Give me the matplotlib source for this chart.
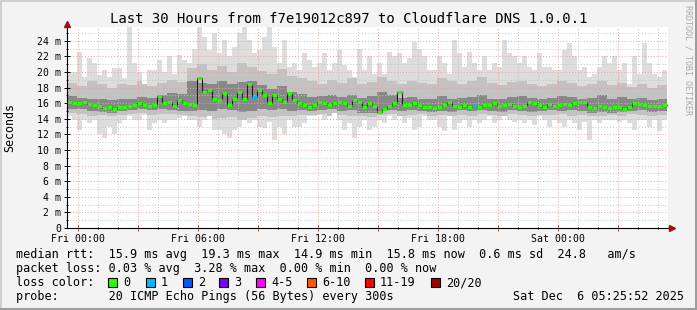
import numpy as np
import matplotlib.pyplot as plt
from matplotlib.ticker import MultipleLocator
from matplotlib.patches import Rectangle
from matplotlib.lines import Line2D

plt.rcParams['font.family'] = ['DejaVu Sans Mono']

# ---- data (ms), 15 minute bins starting Thu 23:26 ----
median = [16.2, 16.0, 16.0, 16.1, 15.9, 15.8, 15.6, 15.4, 15.5, 15.2, 15.5, 15.5,
          15.6, 15.8, 16.0, 15.8, 15.6, 15.8, 16.9, 16.0, 16.2, 15.6, 16.4, 16.0,
          15.9, 15.8, 19.2, 17.5, 17.7, 16.6, 16.4, 17.3, 15.8, 16.6, 17.5, 16.6,
          18.5, 16.8, 17.7, 17.0, 16.0, 17.0, 16.6, 16.2, 17.3, 16.4, 16.0, 15.8,
          15.5, 15.8, 16.2, 16.0, 15.8, 16.0, 16.2, 16.0, 15.6, 16.4, 16.1, 15.5,
          16.0, 15.6, 14.9, 15.3, 15.6, 16.0, 17.5, 15.8, 15.8, 16.0, 15.8, 15.5,
          15.5, 15.4, 15.5, 15.8, 16.2, 15.6, 15.5, 15.8, 15.5, 15.6, 15.5, 15.8,
          15.8, 16.0, 15.6, 15.8, 15.9, 15.6, 15.5, 15.6, 16.1, 16.0, 15.8, 15.5,
          15.9, 15.6, 15.8, 15.9, 15.8, 16.0, 16.1, 16.1, 15.5, 15.4, 15.6, 15.5,
          15.4, 15.5, 15.5, 15.2, 15.5, 16.0, 15.9, 15.8, 15.6, 15.6, 15.6, 15.8]

rtt_max = [20.0, 20.0, 22.6, 19.4, 21.8, 21.1, 19.6, 20.2, 19.4, 20.5, 20.5, 19.2,
           25.8, 21.1, 20.0, 18.5, 20.2, 20.2, 21.5, 20.0, 22.0, 19.8, 22.2, 21.5,
           21.1, 23.0, 25.8, 24.5, 22.8, 25.0, 22.4, 24.1, 22.0, 23.2, 25.0, 25.8,
           24.1, 22.4, 22.8, 24.5, 25.8, 23.2, 21.1, 24.1, 20.7, 21.1, 20.2, 22.4,
           21.5, 20.7, 21.1, 22.4, 20.2, 21.1, 22.8, 20.9, 20.2, 19.4, 23.0, 20.2,
           22.0, 19.8, 21.1, 19.8, 22.6, 22.0, 22.4, 21.1, 21.8, 23.9, 23.0, 22.0,
           20.2, 20.2, 22.0, 21.1, 19.8, 24.1, 22.4, 20.7, 22.6, 21.1, 20.2, 22.0,
           20.2, 21.1, 20.7, 24.1, 22.4, 22.0, 21.1, 22.0, 20.7, 20.2, 22.4, 20.7,
           20.7, 20.2, 20.2, 22.8, 23.7, 22.0, 20.2, 20.7, 19.4, 19.8, 20.7, 22.0,
           21.1, 22.0, 20.2, 21.1, 18.5, 22.0, 19.8, 23.7, 21.1, 19.8, 19.4, 20.2]

rtt_min = [14.3, 13.9, 12.6, 13.9, 13.4, 13.9, 12.1, 11.5, 13.0, 12.1, 13.4, 13.9,
           14.3, 13.9, 13.9, 14.5, 12.6, 13.4, 13.9, 13.4, 13.9, 13.9, 14.1, 14.3,
           13.9, 13.9, 13.0, 13.9, 14.3, 12.6, 12.6, 12.1, 11.5, 12.6, 13.0, 13.9,
           13.4, 13.9, 13.0, 12.8, 13.6, 11.3, 13.0, 12.1, 13.9, 13.0, 13.0, 13.4,
           14.3, 14.3, 14.5, 13.9, 14.3, 14.7, 13.9, 12.6, 13.4, 11.5, 13.0, 13.9,
           12.6, 13.0, 13.9, 13.4, 14.3, 13.9, 14.3, 13.4, 14.1, 12.6, 13.0, 14.3,
           13.9, 13.9, 13.0, 12.4, 14.3, 12.6, 13.4, 13.9, 13.0, 13.9, 13.4, 13.9,
           14.3, 13.4, 13.9, 14.3, 13.9, 13.6, 13.9, 13.4, 13.9, 13.2, 14.3, 13.9,
           13.0, 13.9, 13.4, 13.0, 13.9, 13.4, 12.6, 13.6, 11.3, 13.9, 13.4, 13.9,
           13.9, 13.9, 13.6, 13.9, 13.4, 12.6, 13.9, 13.9, 13.0, 13.9, 12.4, 13.9]

# half hour smoke bands
hi_mid = [18.6, 18.2, 18.9, 18.4, 18.0, 18.5, 18.3, 18.8, 18.2, 18.6, 19.0, 18.7,
          20.5, 21.0, 20.3, 20.8, 20.0, 21.2, 20.6, 20.1, 19.8, 20.4, 19.5, 19.2,
          18.8, 18.5, 19.0, 18.6, 19.2, 18.4, 18.7, 19.3, 18.9, 18.5, 18.8, 18.6,
          18.5, 19.2, 18.8, 18.4, 18.9, 19.4, 18.6, 18.3, 18.7, 18.9, 18.5, 18.2,
          18.4, 18.8, 18.6, 18.2, 18.5, 18.9, 18.3, 18.6, 18.1, 18.4, 18.0, 18.3]
lo_mid = [14.7, 14.6, 14.4, 14.5, 14.3, 14.5, 14.6, 14.7, 14.5, 14.6, 14.6, 14.5,
          14.3, 14.2, 14.0, 14.1, 14.2, 13.9, 14.1, 14.3, 14.2, 14.4, 14.3, 14.5,
          14.5, 14.6, 14.4, 14.5, 14.3, 14.4, 14.2, 14.5, 14.6, 14.4, 14.5, 14.6,
          14.4, 14.5, 14.3, 14.5, 14.4, 14.6, 14.5, 14.4, 14.6, 14.5, 14.4, 14.5,
          14.5, 14.6, 14.4, 14.5, 14.3, 14.4, 14.5, 14.4, 14.6, 14.5, 14.3, 14.5]
hi_dark = [16.9, 16.7, 16.6, 16.5, 16.4, 16.6, 16.5, 16.8, 16.7, 17.0, 17.3, 17.2,
           18.8, 18.6, 18.4, 18.9, 18.5, 18.7, 18.8, 18.3, 17.8, 18.2, 17.5, 17.2,
           16.8, 16.9, 17.0, 16.8, 17.1, 16.7, 16.9, 17.4, 17.0, 16.7, 16.8, 16.6,
           16.5, 16.9, 16.6, 16.7, 16.8, 17.1, 16.6, 16.5, 16.8, 16.9, 16.7, 16.5,
           16.7, 16.9, 16.8, 16.6, 16.7, 17.0, 16.6, 16.8, 16.5, 16.7, 16.4, 16.6]
lo_dark = [15.3, 15.2, 15.0, 14.9, 14.8, 15.0, 15.1, 15.2, 15.1, 15.2, 15.1, 15.0,
           15.0, 15.1, 15.0, 15.2, 15.1, 14.9, 15.0, 15.2, 15.1, 15.3, 15.0, 15.1,
           15.0, 15.1, 15.2, 15.0, 15.1, 14.7, 14.8, 15.0, 15.1, 15.0, 15.1, 15.0,
           14.9, 15.0, 14.9, 15.1, 15.0, 15.1, 15.0, 14.9, 15.1, 15.0, 14.9, 15.0,
           15.1, 15.0, 15.1, 15.0, 14.8, 14.9, 14.8, 14.9, 15.0, 15.1, 14.9, 15.0]

loss_bins = [37, 81]
loss_counts = [1, 1]

loss_labels = ['0', '1', '2', '3', '4-5', '6-10', '11-19', '20/20']
loss_colors = ['#26ff00', '#00b8ff', '#0059ff', '#7e00ff', '#ff00ff',
               '#ff5500', '#ff0000', '#a10000']

xtick_labels = ['Fri 00:00', '', 'Fri 06:00', '', 'Fri 12:00', '',
                'Fri 18:00', '', 'Sat 00:00', '']
ytick_vals = list(range(0, 25, 2))

W, H = 697, 310
fig = plt.figure(figsize=(W / 100, H / 100), dpi=100, facecolor='#f3f3f3')


def fx(px):
    return px / W


def fy(py):
    return 1 - py / H


ax = fig.add_axes([fx(67), fy(228), 601 / W, 201 / H])
ax.set_facecolor('white')

start_h = -(34 + 8 / 60) / 60
n = len(median)
edges = start_h + 0.25 * np.arange(n + 1)


def steps(v):
    v = np.asarray(v, dtype=float)
    return np.append(v, v[-1])


lo = np.asarray(rtt_min)
hi = np.asarray(rtt_max)
lm = np.maximum(np.repeat(lo_mid, 2), lo)
hm = np.minimum(np.repeat(hi_mid, 2), hi)
ld = np.maximum(np.repeat(lo_dark, 2), lo)
hd = np.minimum(np.repeat(hi_dark, 2), hi)

ax.fill_between(edges, steps(lo), steps(hi), step='post', color='#dddddd', lw=0, zorder=1)
ax.fill_between(edges, steps(lm), steps(hm), step='post', color='#c2c2c2', lw=0, zorder=1.1)
ax.fill_between(edges, steps(ld), steps(hd), step='post', color='#888888', lw=0, zorder=1.2)
ax.step(edges, steps(median), where='post', color='#1e1e1e', lw=0.8, zorder=2.6)

colors = [loss_colors[0]] * n
for b, c in zip(loss_bins, loss_counts):
    colors[b] = loss_colors[c]
ax.hlines(median, edges[:-1], edges[1:], colors=colors, lw=2.2, zorder=3)

ax.set_xlim(start_h, start_h + 30.05)
ax.set_ylim(0, 201 / 7.8)

ax.set_xticks(np.arange(0, 30, 3), labels=xtick_labels)
ax.xaxis.set_minor_locator(MultipleLocator(1))
ax.set_yticks(ytick_vals, labels=['0'] + [f'{v} m' for v in ytick_vals[1:]])
ax.yaxis.set_minor_locator(MultipleLocator(1))

ax.grid(which='major', color='#eea0a0', lw=0.7, ls=(0, (1, 2)))
ax.grid(which='minor', color='#c4c4c4', lw=0.7, ls=(0, (1, 2)))
ax.set_axisbelow(False)

for s in ['top', 'right']:
    ax.spines[s].set_visible(False)
for s in ['left', 'bottom']:
    ax.spines[s].set_color('black')
    ax.spines[s].set_linewidth(0.8)
    ax.spines[s].set_zorder(4)

ax.tick_params(which='major', length=4, width=0.7, direction='inout',
               labelsize=7.1, pad=2)
ax.tick_params(which='minor', length=2, width=0.6, direction='inout')
ax.tick_params(axis='x', colors='#d04040', labelcolor='black')

# axis arrows
ax.plot([0, 0], [1, 1.012], transform=ax.transAxes, color='black', lw=0.8, clip_on=False, zorder=4)
ax.plot([1, 1.004], [0, 0], transform=ax.transAxes, color='black', lw=0.8, clip_on=False, zorder=4)
ax.plot([0], [1.015], transform=ax.transAxes, marker='^', ms=4.5, color='#a01010',
        clip_on=False, zorder=5)
ax.plot([1.006], [0], transform=ax.transAxes, marker='>', ms=4.5, color='#a01010',
        clip_on=False, zorder=5)

# titles
fig.text(fx(348.5), fy(19), 'Last 30 Hours from f7e19012c897 to Cloudflare DNS 1.0.0.1',
         ha='center', va='center', fontsize=10.1)
fig.text(fx(10), fy(128), 'Seconds', rotation=90, ha='center', va='center', fontsize=8.4)
fig.text(fx(688), fy(60), 'RRDTOOL / TOBI OETIKER', rotation=270, ha='center', va='center',
         fontsize=6, color='#a8a8a8')

# legend
fs = 8.5
fig.text(fx(16), fy(254.5),
         'median rtt:  15.9 ms avg  19.3 ms max  14.9 ms min  15.8 ms now  0.6 ms sd  24.8   am/s',
         ha='left', va='center', fontsize=fs)
fig.text(fx(16), fy(268.5),
         'packet loss: 0.03 % avg  3.28 % max  0.00 % min  0.00 % now',
         ha='left', va='center', fontsize=fs)
fig.text(fx(16), fy(282.5), 'loss color:', ha='left', va='center', fontsize=fs)
box_x = [108, 146, 183, 219, 256, 307, 365, 431]
for bx, lab, col in zip(box_x, loss_labels, loss_colors):
    fig.add_artist(Rectangle((fx(bx), fy(286.5)), 8.5 / W, 8.5 / H, facecolor=col,
                             edgecolor='black', lw=0.8, transform=fig.transFigure))
    fig.text(fx(bx + 15), fy(282.5), lab, ha='left', va='center', fontsize=fs)
fig.text(fx(16), fy(296.5), 'probe:       20 ICMP Echo Pings (56 Bytes) every 300s',
         ha='left', va='center', fontsize=fs)
fig.text(fx(513), fy(296.5), 'Sat Dec  6 05:25:52 2025', ha='left', va='center', fontsize=fs)

# frame shading
fig.add_artist(Line2D([0, 1], [fy(0.5), fy(0.5)], color='#cfcfcf', lw=1.4, transform=fig.transFigure))
fig.add_artist(Line2D([fx(0.5), fx(0.5)], [0, 1], color='#cfcfcf', lw=1.4, transform=fig.transFigure))
fig.add_artist(Line2D([0, 1], [fy(308.5), fy(308.5)], color='#9e9e9e', lw=2.2, transform=fig.transFigure))
fig.add_artist(Line2D([fx(695.5), fx(695.5)], [0, 1], color='#9e9e9e', lw=2.2, transform=fig.transFigure))

fig.savefig('out.png', dpi=100, facecolor=fig.get_facecolor())
